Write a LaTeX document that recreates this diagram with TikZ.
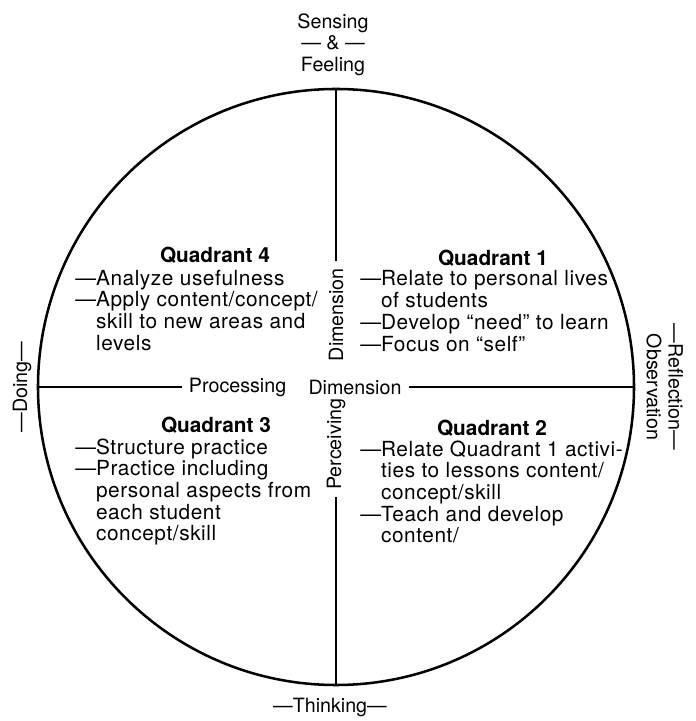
\documentclass[tikz,border=0pt]{standalone}
\usepackage{fontspec}
\setmainfont{TeX Gyre Heros}
\newfontfamily\itemfont[LetterSpace=2.8]{TeX Gyre Heros}
\usepackage{tikz}
\tikzset{font={\fontsize{14pt}{15.4pt}\selectfont}}
\tikzset{
  quadtitle/.style={font={\fontsize{14.8pt}{15.4pt}\selectfont\bfseries}},
  quaditems/.style={anchor=west, inner sep=0pt, font={\itemfont\fontsize{14.8pt}{15.4pt}\selectfont}},
  axislabel/.style={inner sep=5pt},
}

\begin{document}
\begin{tikzpicture}
		\useasboundingbox (-8.4,-8.35) rectangle (8.975,9.675);
		%Wheel
		\node[draw, circle, line width=1.8pt, minimum size=14.9cm, inner sep=0pt] (wheel) at (0,0) {};
		%Dimension labels
		\node[axislabel] (proc) at (-2.46,0) {Processing};
		\node[axislabel] (dimh) at (0.475,0) {Dimension};
		\node[axislabel, rotate=90] (dimv) at (0,1.81) {Dimension};
		\node[axislabel, rotate=90] (perc) at (0,-1.43) {Perceiving};
		%Axes
		\draw[line width=1.4pt] (wheel.west) -- (proc.west);
		\draw[line width=1.4pt] (dimh.east) -- (wheel.east);
		\draw[line width=1.1pt] (wheel.north) -- (dimv.east);
		\draw[line width=1.1pt] (perc.west) -- (wheel.south);
		%Outer labels
		\node[align=center] (sense) at (-0.075,8.56) {Sensing\\— \& —\\Feeling};
		\node (think) at (-0.15,-8.0) {—Thinking—};
		\node[rotate=90] (doing) at (-7.85,0) {—Doing—};
		\node[rotate=-90, align=center] (reflect) at (8.22,0) {—Reflection—\\Observation};
		%Quadrant 4
		\node[quadtitle] (q4) at (-3.025,3.30) {Quadrant 4};
		\node[quaditems] (q4items) at (-6.525,1.84) {\begin{tabular}{@{}l@{}l@{}}
			—&Analyze usefulness\\
			—&Apply content/concept/\\
			&skill to new areas and\\
			&levels
		\end{tabular}};
		%Quadrant 1
		\node[quadtitle] (q1) at (3.925,3.225) {Quadrant 1};
		\node[quaditems] (q1items) at (0.6,1.82) {\begin{tabular}{@{}l@{}l@{}}
			—&Relate to personal lives\\
			&of students\\
			—&Develop “need” to learn\\
			—&Focus on “self”
		\end{tabular}};
		%Quadrant 3
		\node[quadtitle] (q3) at (-3.0,-0.95) {Quadrant 3};
		\node[quaditems] (q3items) at (-6.525,-2.65) {\begin{tabular}{@{}l@{}l@{}}
			—&Structure practice\\
			—&Practice including\\
			&personal aspects from\\
			&each student\\
			&concept/skill
		\end{tabular}};
		%Quadrant 2
		\node[quadtitle] (q2) at (3.9,-1.025) {Quadrant 2};
		\node[quaditems] (q2items) at (0.6,-2.7) {\begin{tabular}{@{}l@{}l@{}}
			—&Relate Quadrant 1 activi-\\
			&ties to lessons content/\\
			&concept/skill\\
			—&Teach and develop\\
			&content/
		\end{tabular}};
\end{tikzpicture}
\end{document}
